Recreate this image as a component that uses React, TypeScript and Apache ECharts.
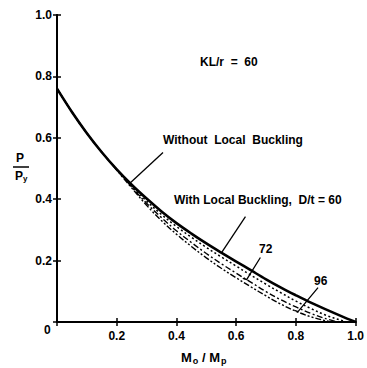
import React, { useEffect, useRef } from "react";
import * as echarts from "echarts";

// Moment ratio M/Mp vs axial load ratio P/Py
const xWithout = [0, 0.05, 0.1, 0.15, 0.2, 0.25, 0.3, 0.35, 0.4, 0.45, 0.5, 0.55, 0.6, 0.65, 0.7, 0.75, 0.8, 0.85, 0.9, 0.95, 1.0];
const yWithout = [0.76, 0.684, 0.615, 0.553, 0.497, 0.447, 0.402, 0.36, 0.322, 0.288, 0.256, 0.226, 0.197, 0.168, 0.139, 0.112, 0.087, 0.063, 0.041, 0.02, 0];

const x60 = [0, 0.05, 0.1, 0.15, 0.2, 0.25, 0.3, 0.35, 0.4, 0.45, 0.5, 0.55, 0.6, 0.65, 0.7, 0.75, 0.8, 0.85, 0.9, 0.95, 0.97];
const y60 = [0.76, 0.684, 0.615, 0.553, 0.497, 0.443, 0.394, 0.35, 0.311, 0.276, 0.243, 0.212, 0.182, 0.152, 0.123, 0.095, 0.068, 0.044, 0.022, 0.006, 0];

const x72 = [0, 0.05, 0.1, 0.15, 0.2, 0.25, 0.3, 0.35, 0.4, 0.45, 0.5, 0.55, 0.6, 0.65, 0.7, 0.75, 0.8, 0.85, 0.9, 0.94];
const y72 = [0.76, 0.684, 0.615, 0.553, 0.496, 0.44, 0.387, 0.34, 0.297, 0.259, 0.223, 0.19, 0.159, 0.129, 0.099, 0.072, 0.049, 0.028, 0.011, 0];

const x96 = [0, 0.05, 0.1, 0.15, 0.2, 0.25, 0.3, 0.35, 0.4, 0.45, 0.5, 0.55, 0.6, 0.65, 0.7, 0.75, 0.8, 0.85, 0.9, 0.92];
const y96 = [0.76, 0.684, 0.615, 0.553, 0.495, 0.437, 0.38, 0.33, 0.286, 0.246, 0.209, 0.175, 0.144, 0.114, 0.085, 0.058, 0.035, 0.017, 0.004, 0];

// Leader lines (data coordinates)
const leaderWithoutX = [0.355, 0.243];
const leaderWithoutY = [0.552, 0.451];
const leaderWithX = [0.631, 0.551];
const leaderWithY = [0.343, 0.226];
const leader72X = [0.681, 0.635, 0.622];
const leader72Y = [0.21, 0.138, 0.142];
const leader96X = [0.874, 0.807, 0.795];
const leader96Y = [0.112, 0.034, 0.038];

const xTicks = ["0.2", "0.4", "0.6", "0.8", "1.0"];
const yTicks = ["0.2", "0.4", "0.6", "0.8", "1.0"];

const zip = (a: number[], b: number[]) => a.map((v, i) => [v, b[i]]);

const FONT = "Liberation Sans";

export default function App() {
  const ref = useRef<HTMLDivElement>(null);
  useEffect(() => {
    if (!ref.current) return;
    const chart = echarts.init(ref.current, null, { renderer: "svg" });
    const gridL = 57, gridT = 15, gridW = 301, gridH = 307;
    const leaderStyle = { color: "#000", width: 1.3 };
    const mk = (name: string, data: number[][], width: number, type: any) => ({
      name,
      type: "line",
      data,
      smooth: 0.35,
      symbol: "none",
      silent: true,
      lineStyle: { color: "#000", width, type },
    });
    const leader = (data: number[][]) => ({
      type: "line",
      data,
      symbol: "none",
      silent: true,
      lineStyle: leaderStyle,
    });
    const axisCommon = {
      min: 0,
      max: 1,
      interval: 0.2,
      splitLine: { show: false },
    };
    chart.setOption({
      animation: false,
      backgroundColor: "#fff",
      grid: { left: gridL, top: gridT, width: gridW, height: gridH, containLabel: false },
      xAxis: [
        {
          type: "value",
          position: "bottom",
          ...axisCommon,
          axisLine: { lineStyle: { color: "#000", width: 2 } },
          axisTick: { inside: true, length: 4, lineStyle: { color: "#000", width: 1.5 } },
          axisLabel: {
            color: "#000",
            fontFamily: FONT,
            fontWeight: "bold",
            fontSize: 12,
            margin: 8,
            formatter: (v: number) => {
              const i = Math.round(v / 0.2) - 1;
              return i >= 0 ? xTicks[i] : "";
            },
          },
        },
        {
          type: "value",
          position: "top",
          ...axisCommon,
          axisLine: { lineStyle: { color: "#000", width: 2 } },
          axisTick: { inside: true, length: 4, lineStyle: { color: "#000", width: 1.5 } },
          axisLabel: { show: false },
        },
      ],
      yAxis: [
        {
          type: "value",
          position: "left",
          ...axisCommon,
          axisLine: { show: true, lineStyle: { color: "#000", width: 2 } },
          axisTick: { show: true, inside: true, length: 4, lineStyle: { color: "#000", width: 1.5 } },
          axisLabel: {
            color: "#000",
            fontFamily: FONT,
            fontWeight: "bold",
            fontSize: 12,
            margin: 5,
            formatter: (v: number) => {
              const i = Math.round(v / 0.2) - 1;
              return i >= 0 ? yTicks[i] : "";
            },
          },
        },
        {
          type: "value",
          position: "right",
          ...axisCommon,
          axisLine: { show: true, lineStyle: { color: "#000", width: 2 } },
          axisTick: { show: true, inside: true, length: 4, lineStyle: { color: "#000", width: 1.5 } },
          axisLabel: { show: false },
        },
      ],
      series: [
        mk("Without Local Buckling", zip(xWithout, yWithout), 2.6, "solid"),
        mk("D/t = 60", zip(x60, y60), 1.5, [2, 2.5]),
        mk("D/t = 72", zip(x72, y72), 1.4, [6, 2.5, 2, 2.5]),
        mk("D/t = 96", zip(x96, y96), 1.4, [6, 2, 2, 2, 2, 2]),
        leader(zip(leaderWithoutX, leaderWithoutY)),
        leader(zip(leaderWithX, leaderWithY)),
        leader(zip(leader72X, leader72Y)),
        leader(zip(leader96X, leader96Y)),
      ],
      graphic: [
        { type: "text", left: 44, top: 324, style: { text: "0", font: `bold 12px "${FONT}"`, fill: "#000" } },
        { type: "text", left: 200, top: 56, style: { text: "KL/r  =  60", font: `bold 12px "${FONT}"`, fill: "#000" } },
        { type: "text", left: 163, top: 134, style: { text: "Without  Local  Buckling", font: `bold 12px "${FONT}"`, fill: "#000" } },
        { type: "text", left: 174, top: 194, style: { text: "With Local Buckling,  D/t = 60", font: `bold 12px "${FONT}"`, fill: "#000" } },
        { type: "text", left: 259, top: 243, style: { text: "72", font: `bold 12px "${FONT}"`, fill: "#000" } },
        { type: "text", left: 314, top: 275, style: { text: "96", font: `bold 12px "${FONT}"`, fill: "#000" } },
        {
          type: "text",
          left: 181,
          top: 351,
          style: {
            text: "{m|M}{s|o}{m| / M}{s|p}",
            rich: {
              m: { font: `bold 13px "${FONT}"`, fill: "#000" },
              s: { font: `bold 9px "${FONT}"`, fill: "#000", padding: [6, 0, 0, 1] },
            },
          },
        },
        { type: "text", left: 16, top: 152, style: { text: "P", font: `bold 12px "${FONT}"`, fill: "#000" } },
        { type: "line", shape: { x1: 13, y1: 167, x2: 29, y2: 167 }, style: { stroke: "#000", lineWidth: 1.5 } },
        {
          type: "text",
          left: 15,
          top: 170,
          style: {
            text: "{m|P}{s|y}",
            rich: {
              m: { font: `bold 12px "${FONT}"`, fill: "#000" },
              s: { font: `bold 8px "${FONT}"`, fill: "#000", padding: [5, 0, 0, 0] },
            },
          },
        },
      ],
    });
    return () => chart.dispose();
  }, []);
  return (
    <div
      ref={ref}
      style={{ position: "fixed", left: 0, top: 0, width: 367, height: 368, background: "#fff" }}
    />
  );
}
